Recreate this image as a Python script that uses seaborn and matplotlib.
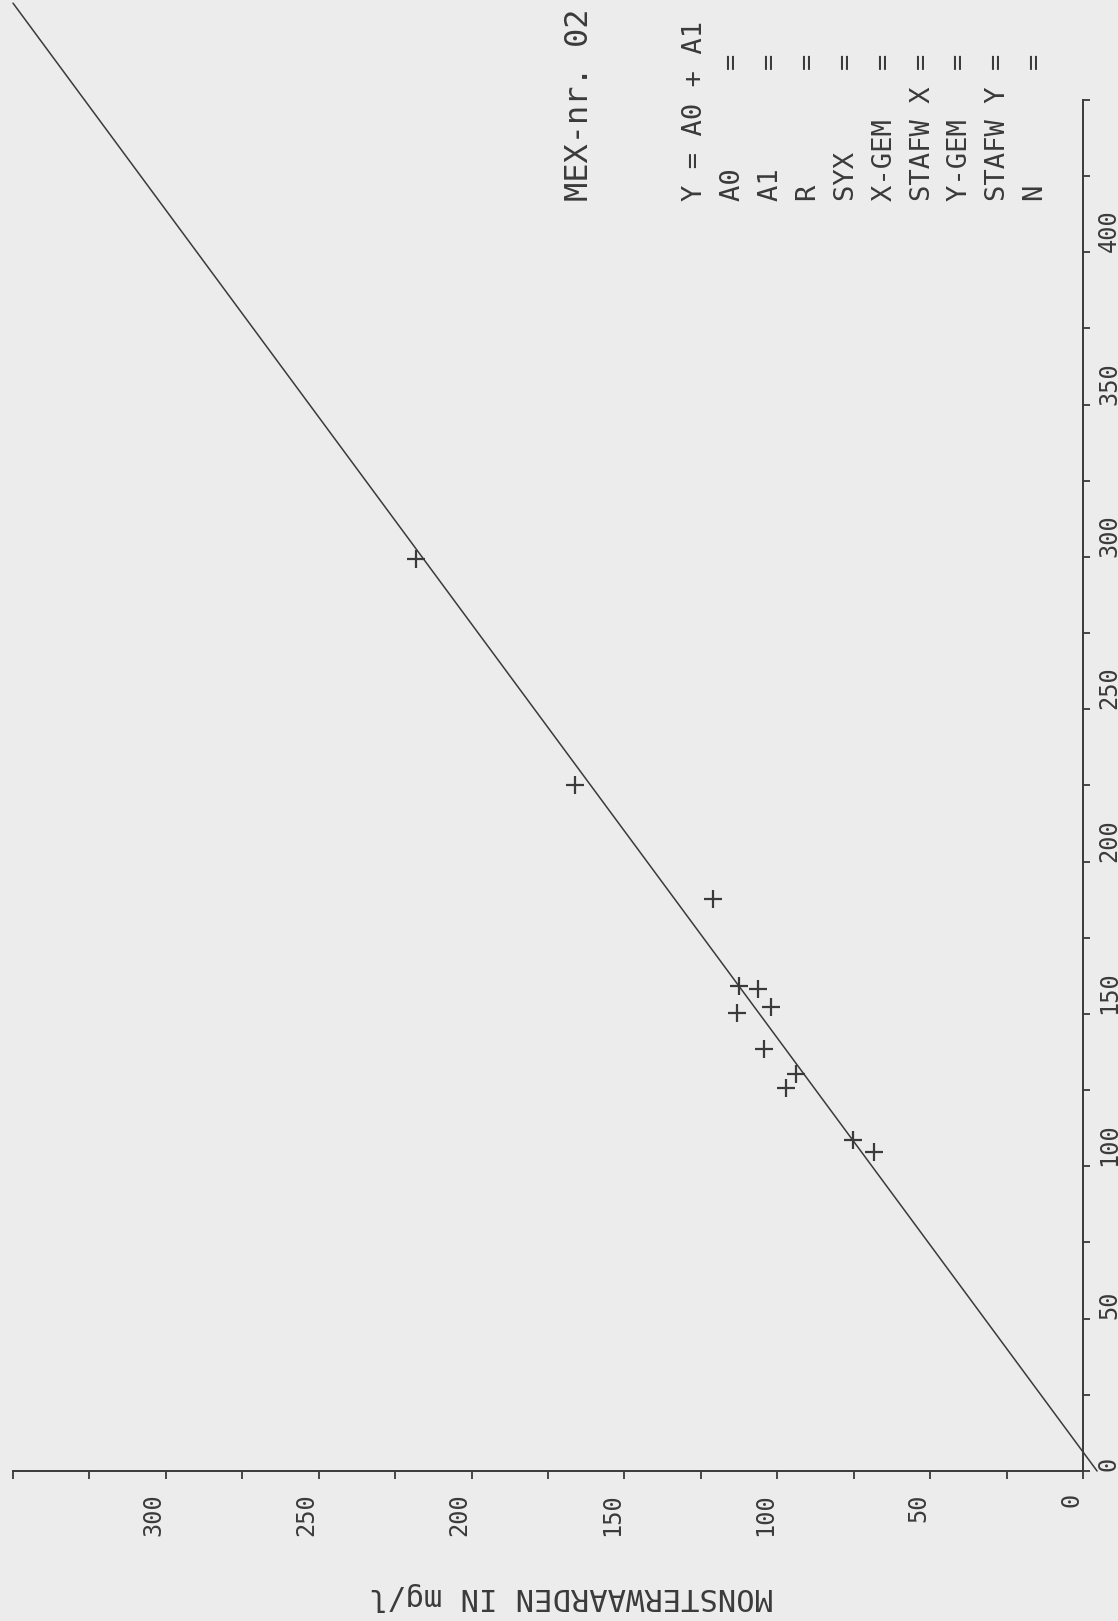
# -*- coding: utf-8 -*-
# regressie plot MEX-nr. 02, gedraaid zoals de plotter-uitvoer
import seaborn as sns
import pandas as pd
import numpy as np
from matplotlib import pyplot as plt
from matplotlib.ticker import FixedLocator, FixedFormatter

# DATA ###################################################################
# X waarden (verticale as, rechts)
x_vals = [159.3, 158.2, 152.3, 150.4, 138.5, 130.4, 125.7, 108.5, 104.7, 299.5, 225.0, 187.7]
# Monsterwaarden in mg/l (horizontale as, onder)
y_vals = [112.4, 106.2, 102.2, 113.3, 104.3, 93.9, 97.2, 75.3, 68.3, 218.3, 166.2, 120.9]
# regressielijn Y = A0 + A1 * X
a0 = -4.6
a1 = 0.736

x_ticks = list(range(0, 451, 25))
x_ticklabels = [str(v) if v % 50 == 0 and v <= 400 else "" for v in x_ticks]
y_ticks = list(range(0, 351, 25))
y_ticklabels = [str(v) if v % 50 == 0 and v <= 300 else "" for v in y_ticks]

title_txt = "MEX-nr. 02"
formula_txt = "Y = A0 + A1"
stat_labels = ["A0", "A1", "R", "SYX", "X-GEM", "STAFW X", "Y-GEM", "STAFW Y", "N"]
ylabel_txt = "MONSTERWAARDEN IN mg/l"

# STYLE ##################################################################
sns.set_theme(style="white")
plt.rcParams['font.family'] = ['DejaVu Sans Mono', 'DejaVu Sans']
paper = "#ececec"
ink = "#3a3a3a"

fig = plt.figure(figsize=(11.18, 16.21), dpi=100, facecolor=paper)
ax = fig.add_axes([0.01163, 0.09254, 0.95707, 0.84577])
ax.set_facecolor(paper)

df = pd.DataFrame({"X": x_vals, "Y": y_vals})

# punten
sns.scatterplot(data=df, x="Y", y="X", marker="+", s=170, linewidth=1.6,
                color=ink, ax=ax, clip_on=False, legend=False)

# regressielijn van X=0 tot Y=350
line_df = pd.DataFrame({"Y": [a0, 350.0], "X": [0.0, (350.0 - a0) / a1]})
sns.lineplot(data=line_df, x="Y", y="X", sort=False, estimator=None,
             color=ink, linewidth=1.1, ax=ax, clip_on=False)

ax.set_xlim(350, 0)
ax.set_ylim(0, 450)

sns.despine(ax=ax, left=True, top=True, right=False, bottom=False)
for side in ["right", "bottom"]:
    ax.spines[side].set_color(ink)
    ax.spines[side].set_linewidth(1.4)

ax.yaxis.tick_right()
ax.yaxis.set_major_locator(FixedLocator(x_ticks))
ax.yaxis.set_major_formatter(FixedFormatter(x_ticklabels))
ax.xaxis.set_major_locator(FixedLocator(y_ticks))
ax.xaxis.set_major_formatter(FixedFormatter(y_ticklabels))

ax.tick_params(axis="x", bottom=True, direction="out", length=6, width=1.3,
               pad=10, labelsize=17, colors=ink, labelrotation=90)
ax.tick_params(axis="y", right=True, left=False, direction="out", length=5,
               width=1.3, pad=5, labelsize=17, colors=ink, labelrotation=90)
for lab in ax.get_xticklabels():
    lab.set_ha("right")
    lab.set_va("top")
for lab in ax.get_yticklabels():
    lab.set_va("bottom")
    lab.set_ha("left")

ax.set_xlabel(ylabel_txt, fontsize=22, color=ink, rotation=180,
              ha="center", va="center")
ax.xaxis.set_label_coords(0.5215, -0.0919)
ax.set_ylabel("")

# tekstblok rechtsboven
fig.text(579 / 1118, 1 - 201 / 1621, title_txt, rotation=90, fontsize=23,
         color=ink, ha="center", va="bottom")
fig.text(695 / 1118, 1 - 201 / 1621, formula_txt, rotation=90, fontsize=19.5,
         color=ink, ha="center", va="bottom")
for i, lab in enumerate(stat_labels):
    xpix = 733 + i * 37.9
    fig.text(xpix / 1118, 1 - 201 / 1621, lab.ljust(8) + "=", rotation=90,
             fontsize=19.5, color=ink, ha="center", va="bottom")

fig.savefig("out.png", dpi=100, facecolor=paper)
